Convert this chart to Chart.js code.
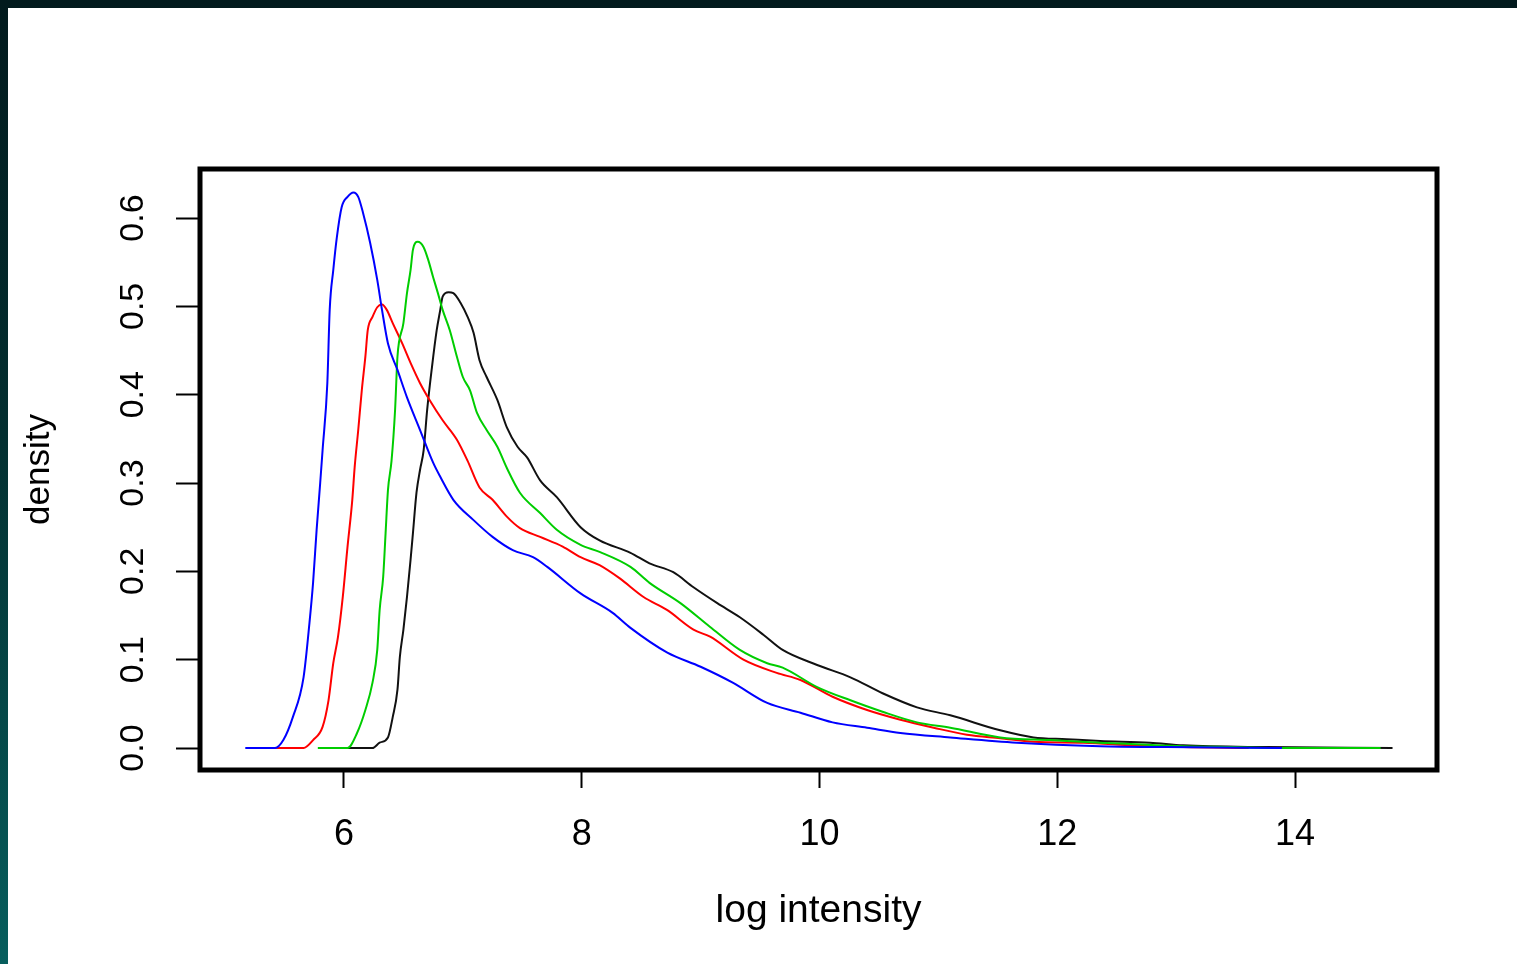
<!DOCTYPE html>
<html>
<head>
<meta charset="utf-8">
<script src="https://cdn.jsdelivr.net/npm/chart.js@4/dist/chart.umd.min.js"></script>
<style>
    html, body{
        margin: 0;
        padding: 0;
        width: 1517px;
        height: 964px;
        overflow: hidden;
        background: linear-gradient(to bottom, #021a1d 0%, #032f30 45%, #075e5d 100%);
    }
    #paper{
        position: absolute;
        left: 8px;
        top: 8px;
        width: 1509px;
        height: 956px;
        background: #ffffff;
    }
    #densityChart{
        position: absolute;
        left: 0;
        top: 0;
    }
</style>
</head>
<body>
<div id="paper"></div>
<canvas id="densityChart" width="1517" height="964"></canvas>
<script>
// Density curves (x = log intensity, y = density)
const blueX = [5.17, 5.42, 5.49, 5.57, 5.66, 5.71, 5.74, 5.77, 5.80, 5.82, 5.86, 5.88, 5.91, 5.94, 5.98, 6.03, 6.08, 6.12, 6.16, 6.22, 6.28, 6.32, 6.37, 6.45, 6.53, 6.64, 6.75, 6.81, 6.92, 7.09, 7.25, 7.42, 7.59, 7.71, 7.99, 8.26, 8.41, 8.72, 9.00, 9.27, 9.56, 9.84, 10.11, 10.40, 10.68, 11.10, 11.66, 12.36, 12.92, 13.89];
const blueY = [0, 0, 0.009, 0.035, 0.080, 0.142, 0.187, 0.247, 0.300, 0.337, 0.413, 0.496, 0.541, 0.578, 0.612, 0.624, 0.629, 0.624, 0.606, 0.572, 0.530, 0.496, 0.458, 0.428, 0.397, 0.360, 0.323, 0.307, 0.281, 0.258, 0.239, 0.224, 0.216, 0.205, 0.175, 0.153, 0.136, 0.108, 0.092, 0.074, 0.051, 0.040, 0.029, 0.023, 0.017, 0.012, 0.006, 0.002, 0.001, 0];

const redX = [5.42, 5.66, 5.74, 5.82, 5.87, 5.91, 5.95, 5.99, 6.03, 6.07, 6.09, 6.12, 6.15, 6.18, 6.20, 6.24, 6.28, 6.32, 6.36, 6.41, 6.49, 6.56, 6.64, 6.72, 6.83, 6.95, 7.04, 7.14, 7.25, 7.37, 7.48, 7.65, 7.84, 7.99, 8.15, 8.32, 8.52, 8.72, 8.94, 9.08, 9.36, 9.64, 9.84, 10.11, 10.40, 10.68, 10.96, 11.24, 11.52, 11.80, 12.22, 12.64, 13.06, 13.61];
const redY = [0, 0, 0.009, 0.024, 0.054, 0.096, 0.126, 0.171, 0.228, 0.281, 0.318, 0.360, 0.405, 0.443, 0.473, 0.488, 0.499, 0.502, 0.496, 0.481, 0.458, 0.436, 0.413, 0.394, 0.371, 0.349, 0.325, 0.295, 0.281, 0.262, 0.249, 0.239, 0.228, 0.216, 0.207, 0.192, 0.171, 0.156, 0.134, 0.126, 0.100, 0.085, 0.077, 0.058, 0.043, 0.032, 0.023, 0.015, 0.011, 0.007, 0.006, 0.003, 0.001, 0];

const greenX = [5.78, 6.03, 6.11, 6.18, 6.24, 6.28, 6.30, 6.33, 6.35, 6.37, 6.40, 6.43, 6.45, 6.50, 6.53, 6.56, 6.58, 6.62, 6.67, 6.71, 6.75, 6.79, 6.83, 6.89, 6.95, 7.00, 7.06, 7.12, 7.20, 7.29, 7.37, 7.48, 7.65, 7.79, 7.99, 8.15, 8.41, 8.57, 8.83, 9.08, 9.33, 9.56, 9.69, 9.98, 10.26, 10.53, 10.82, 11.10, 11.52, 11.94, 12.36, 13.06, 13.48, 13.89, 14.72];
const greenY = [0, 0, 0.017, 0.043, 0.074, 0.111, 0.156, 0.194, 0.243, 0.292, 0.325, 0.383, 0.443, 0.481, 0.515, 0.541, 0.564, 0.573, 0.567, 0.552, 0.533, 0.515, 0.496, 0.473, 0.443, 0.420, 0.405, 0.379, 0.360, 0.341, 0.317, 0.289, 0.266, 0.247, 0.230, 0.222, 0.205, 0.187, 0.164, 0.137, 0.111, 0.096, 0.091, 0.069, 0.054, 0.041, 0.029, 0.023, 0.012, 0.009, 0.006, 0.002, 0.001, 0, 0];

const blackX = [6.03, 6.24, 6.30, 6.37, 6.41, 6.45, 6.47, 6.50, 6.53, 6.56, 6.58, 6.61, 6.64, 6.67, 6.70, 6.74, 6.78, 6.81, 6.83, 6.88, 6.92, 6.98, 7.04, 7.09, 7.14, 7.20, 7.29, 7.37, 7.46, 7.54, 7.65, 7.79, 7.99, 8.15, 8.41, 8.57, 8.77, 8.94, 9.14, 9.33, 9.53, 9.69, 9.98, 10.26, 10.53, 10.82, 11.10, 11.52, 11.80, 12.08, 12.36, 12.78, 13.06, 13.76, 14.82];
const blackY = [0, 0, 0.006, 0.012, 0.035, 0.066, 0.103, 0.134, 0.171, 0.213, 0.243, 0.289, 0.315, 0.337, 0.383, 0.431, 0.473, 0.496, 0.511, 0.516, 0.515, 0.504, 0.488, 0.470, 0.439, 0.420, 0.394, 0.363, 0.341, 0.329, 0.303, 0.284, 0.250, 0.235, 0.221, 0.209, 0.199, 0.182, 0.164, 0.148, 0.128, 0.111, 0.094, 0.080, 0.062, 0.046, 0.037, 0.020, 0.012, 0.010, 0.008, 0.006, 0.003, 0.001, 0];

const xTickValues = [6, 8, 10, 12, 14];
const xTickLabels = ["6", "8", "10", "12", "14"];
const yTickValues = [0, 0.1, 0.2, 0.3, 0.4, 0.5, 0.6];
const yTickLabels = ["0.0", "0.1", "0.2", "0.3", "0.4", "0.5", "0.6"];

const X_TITLE = "log intensity";
const Y_TITLE = "density";

const FONT_FAMILY = "'Liberation Sans', Arial, sans-serif";

function toPoints(xs, ys){
    return xs.map((x, i) => ({x: x, y: ys[i]}));
}

function makeLine(label, xs, ys, color, order){
    return {
        label: label,
        data: toPoints(xs, ys),
        showLine: true,
        borderColor: color,
        borderWidth: 2,
        pointRadius: 0,
        fill: false,
        cubicInterpolationMode: "monotone",
        order: order
    };
}

// R style box round the plot region plus rotated y tick labels
const boxPlugin = {
    id: "rBox",
    afterDraw(chart){
        const ctx = chart.ctx;
        const area = chart.chartArea;
        const yScale = chart.scales.y;

        ctx.save();
        ctx.strokeStyle = "#000";
        ctx.lineWidth = 5;
        ctx.lineJoin = "miter";
        ctx.strokeRect(area.left, area.top, area.right - area.left, area.bottom - area.top);

        ctx.fillStyle = "#000";
        ctx.font = "34px " + FONT_FAMILY;
        ctx.textAlign = "center";
        ctx.textBaseline = "middle";
        yTickValues.forEach((v, i) => {
            const py = yScale.getPixelForValue(v);
            ctx.save();
            ctx.translate(area.left - 66, py);
            ctx.rotate(-Math.PI / 2);
            ctx.fillText(yTickLabels[i], 0, 0);
            ctx.restore();
        });
        ctx.restore();
    }
};

const ctx = document.getElementById("densityChart").getContext("2d");

new Chart(ctx, {
    type: "scatter",
    data: {
        datasets: [
            makeLine("black", blackX, blackY, "#111111", 4),
            makeLine("red", redX, redY, "#ff0000", 3),
            makeLine("green", greenX, greenY, "#00cd00", 2),
            makeLine("blue", blueX, blueY, "#0000ff", 1)
        ]
    },
    options: {
        responsive: false,
        animation: false,
        devicePixelRatio: 1,
        layout: {
            padding: {top: 169, right: 80, bottom: 0, left: 0}
        },
        plugins: {
            legend: {display: false},
            tooltip: {enabled: false}
        },
        scales: {
            x: {
                type: "linear",
                min: 4.789,
                max: 15.194,
                afterBuildTicks: (scale) => {
                    scale.ticks = xTickValues.map(v => ({value: v}));
                },
                afterFit: (scale) => {
                    scale.height = 194;
                },
                ticks: {
                    color: "#000",
                    padding: 25,
                    maxRotation: 0,
                    font: {family: FONT_FAMILY, size: 36},
                    callback: (value, index) => xTickLabels[index]
                },
                grid: {
                    drawOnChartArea: false,
                    drawTicks: true,
                    tickLength: 18,
                    tickWidth: 2,
                    tickColor: "#000"
                },
                border: {display: false},
                title: {
                    display: true,
                    text: X_TITLE,
                    color: "#000",
                    font: {family: FONT_FAMILY, size: 39},
                    padding: {top: 0, bottom: 29}
                }
            },
            y: {
                type: "linear",
                min: -0.0249,
                max: 0.6555,
                afterBuildTicks: (scale) => {
                    scale.ticks = yTickValues.map(v => ({value: v}));
                },
                afterFit: (scale) => {
                    scale.width = 200;
                },
                ticks: {display: false},
                grid: {
                    drawOnChartArea: false,
                    drawTicks: true,
                    tickLength: 24,
                    tickWidth: 2,
                    tickColor: "#000"
                },
                border: {display: false},
                title: {
                    display: true,
                    text: Y_TITLE,
                    color: "#000",
                    font: {family: FONT_FAMILY, size: 35},
                    padding: {top: 18, bottom: 0}
                }
            }
        }
    },
    plugins: [boxPlugin]
});
</script>
</body>
</html>
